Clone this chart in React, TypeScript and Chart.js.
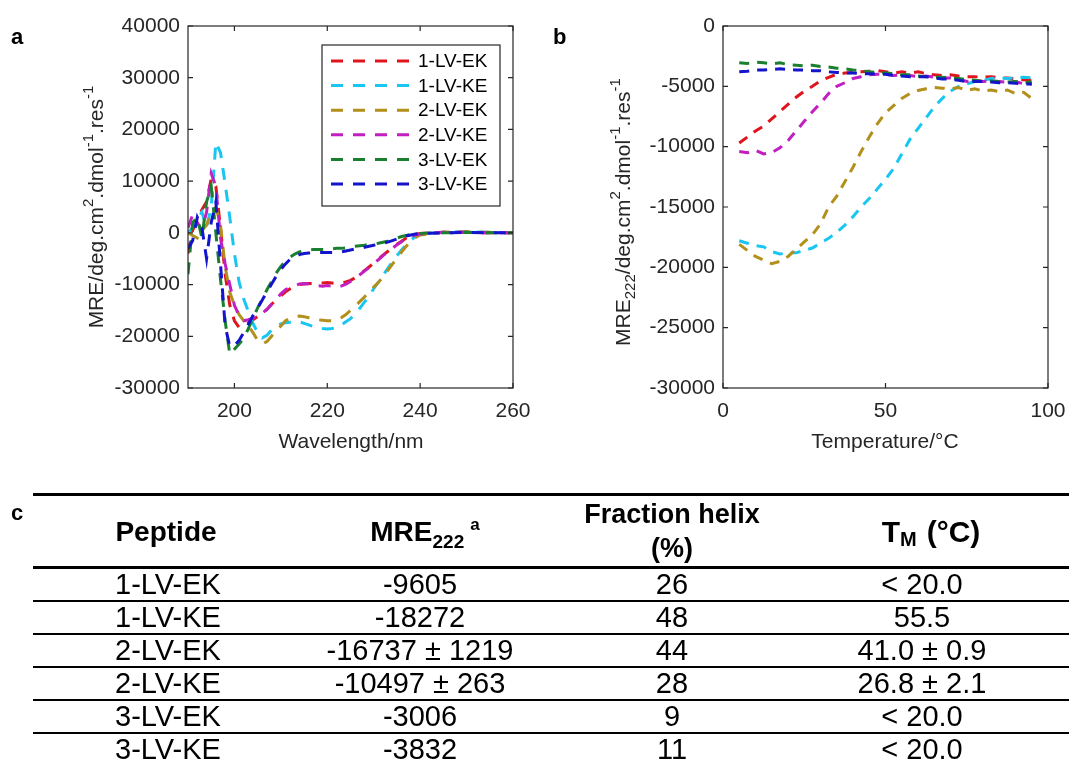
import React, { useEffect, useRef } from "react";
import { Chart, registerables } from "chart.js";

Chart.register(...registerables);

const FONT = '"Liberation Sans", Arial, Helvetica, sans-serif';
const INK = "#262626";

// ---------------- data ----------------
const SERIES_NAMES = ["1-LV-EK", "1-LV-KE", "2-LV-EK", "2-LV-KE", "3-LV-EK", "3-LV-KE"];
const SERIES_COLORS = ["#e0141c", "#19c6f2", "#b38f1b", "#c21fc2", "#1a7f2e", "#1414cc"];

// panel a: CD spectra
const WAVELENGTH_NM = [
  190, 191, 192, 193, 194, 195, 196, 197, 198, 199,
  200, 201, 202, 203, 204, 205, 206, 207, 208, 209,
  210, 211, 212, 213, 214, 215, 216, 217, 218, 219,
  220, 221, 222, 223, 224, 225, 226, 227, 228, 229,
  230, 231, 232, 233, 234, 235, 236, 237, 238, 239,
  240, 245, 250, 255, 260,
];
const CD_1LVEK = [
  -4000, 500, 2500, 4500, 6000, 10500, 9000, 1000, -8000, -14000,
  -17000, -18300, -18200, -17400, -16800, -16200, -15500, -14800, -13800, -13000,
  -12200, -11400, -10800, -10200, -10000, -9900, -9800, -9800, -9700, -9700,
  -9600, -9700, -9800, -9700, -9500, -9200, -8700, -8000, -7300, -6600,
  -5800, -5100, -4300, -3600, -2900, -2200, -1600, -1000, -600, -300,
  -100, 100, 100, 0, 0,
];
const CD_1LVKE = [
  0, 1000, 2500, 4000, 1000, 5000, 17500, 15500, 9500, 3000,
  -4000, -9500, -12800, -15200, -17500, -19300, -20300, -19800, -18800, -18000,
  -17600, -17400, -17300, -17200, -17200, -17500, -17800, -18100, -18300, -18500,
  -18600, -18500, -18300, -17800, -17200, -16600, -15600, -14600, -13400, -12200,
  -10800, -9500, -8200, -6900, -5600, -4400, -3300, -2300, -1400, -700,
  -300, 100, 200, 100, 0,
];
const CD_2LVEK = [
  0, -500, -1000, 500, 1500, 4000, 5000, 1500, -6500, -11500,
  -14000, -15800, -17000, -18000, -19300, -20800, -21500, -21000, -20000, -19000,
  -18000, -17000, -16500, -16200, -16100, -16200, -16400, -16600, -16800, -16900,
  -17000, -17000, -16800, -16400, -15800, -15000, -14200, -13300, -12400, -11400,
  -10500, -9600, -8500, -7300, -6100, -4900, -3700, -2600, -1600, -900,
  -400, 100, 200, 100, 0,
];
const CD_2LVKE = [
  1000, 3500, 2000, 500, 4000, 11500, 9000, -1000, -6000, -10000,
  -14000, -16000, -17000, -16800, -16500, -16000, -15500, -14800, -13800, -12800,
  -11800, -11000, -10500, -10200, -9900, -9800, -9900, -10000, -10200, -10300,
  -10200, -10300, -10500, -10300, -9900, -9400, -8800, -8100, -7400, -6700,
  -5900, -5200, -4400, -3700, -3000, -2300, -1700, -1100, -700, -400,
  -200, 100, 100, 0, 0,
];
const CD_3LVEK = [
  -8000, 2000, 3000, -1000, 6000, 9000, 0, -9000, -17000, -23500,
  -22500, -21500, -20400, -18500, -16500, -14500, -12800, -11000, -9400, -7800,
  -6500, -5500, -4700, -4100, -3700, -3400, -3300, -3200, -3200, -3200,
  -3200, -3100, -3000, -3000, -2900, -2700, -2600, -2500, -2400, -2200,
  -2100, -2000, -1800, -1600, -1300, -1000, -700, -500, -300, -200,
  -100, 0, 100, 0, 0,
];
const CD_3LVKE = [
  -3000, -1500, 3000, 1000, -5000, 2000, 6000, -6000, -18000, -22000,
  -21800, -20800, -19300, -17700, -16000, -14500, -13000, -11400, -9900, -8400,
  -7100, -6000, -5100, -4600, -4200, -4000, -3900, -3800, -3800, -3800,
  -3800, -3800, -3800, -3700, -3500, -3300, -3100, -3000, -2800, -2600,
  -2400, -2200, -2000, -1800, -1500, -1200, -900, -600, -400, -200,
  -100, 0, 100, 0, 0,
];
const CD_X_TICKS = [200, 220, 240, 260];
const CD_Y_TICKS = [40000, 30000, 20000, 10000, 0, -10000, -20000, -30000];

// panel b: thermal melts (MRE at 222 nm)
const TEMPERATURE_C = [
  5, 7.5, 10, 12.5, 15, 17.5, 20, 22.5, 25, 27.5,
  30, 32.5, 35, 37.5, 40, 42.5, 45, 47.5, 50, 52.5,
  55, 57.5, 60, 62.5, 65, 67.5, 70, 72.5, 75, 77.5,
  80, 82.5, 85, 87.5, 90, 92.5, 95,
];
const MELT_1LVEK = [
  -9700, -9200, -8700, -8300, -7700, -7100, -6500, -5900, -5400, -5000,
  -4550, -4250, -4000, -3900, -3850, -3800, -3750, -3700, -3800, -3900,
  -3800, -3900, -3800, -3950, -4050, -4100, -4050, -4150, -4200, -4200,
  -4250, -4200, -4300, -4300, -4400, -4450, -4500,
];
const MELT_1LVKE = [
  -17800, -18000, -18200, -18300, -18700, -18900, -18800, -18800, -18600, -18400,
  -18000, -17600, -17100, -16500, -15800, -15000, -14300, -13500, -12700, -11800,
  -10600, -9400, -8500, -7600, -6700, -6000, -5400, -5000, -4800, -4600,
  -4500, -4350, -4300, -4350, -4300, -4250, -4300,
];
const MELT_2LVEK = [
  -18100, -18600, -19100, -19400, -19700, -19500, -19100, -18500, -17900, -17300,
  -16400, -15000, -14100, -12900, -11700, -10400, -9200, -8100, -7200, -6600,
  -6000, -5600, -5350, -5200, -5100, -5150, -5200, -5100, -5350, -5200,
  -5400, -5300, -5450, -5300, -5600, -5500, -6000,
];
const MELT_2LVKE = [
  -10400, -10500, -10300, -10600, -10500, -10100, -9500, -8700, -7900, -7100,
  -6400, -5600, -5000, -4700, -4350, -4200, -4050, -4000, -4000, -4100,
  -4050, -4100, -4200, -4150, -4250, -4300, -4300, -4400, -4600, -4500,
  -4600, -4550, -4600, -4650, -4600, -4800, -4800,
];
const MELT_3LVEK = [
  -3050, -3100, -3000, -3050, -3150, -3050, -3200, -3250, -3300, -3250,
  -3350, -3400, -3500, -3550, -3650, -3700, -3800, -3850, -3900, -3950,
  -4050, -4050, -4150, -4200, -4250, -4250, -4300, -4350, -4450, -4500,
  -4600, -4550, -4600, -4650, -4600, -4700, -4650,
];
const MELT_3LVKE = [
  -3800, -3750, -3650, -3650, -3600, -3550, -3600, -3650, -3650, -3700,
  -3700, -3800, -3850, -3900, -3900, -3950, -3950, -4000, -4000, -4100,
  -4150, -4200, -4200, -4200, -4300, -4400, -4400, -4500, -4600, -4600,
  -4600, -4650, -4700, -4700, -4750, -4800, -4800,
];
const MELT_X_TICKS = [0, 50, 100];
const MELT_Y_TICKS = [0, -5000, -10000, -15000, -20000, -25000, -30000];

// panel c: table
const TABLE_PEPTIDE = ["1-LV-EK", "1-LV-KE", "2-LV-EK", "2-LV-KE", "3-LV-EK", "3-LV-KE"];
const TABLE_MRE222 = ["-9605", "-18272", "-16737 ± 1219", "-10497 ± 263", "-3006", "-3832"];
const TABLE_HELIX = ["26", "48", "44", "28", "9", "11"];
const TABLE_TM = ["< 20.0", "55.5", "41.0 ± 0.9", "26.8 ± 2.1", "< 20.0", "< 20.0"];

const CD_SERIES = [CD_1LVEK, CD_1LVKE, CD_2LVEK, CD_2LVKE, CD_3LVEK, CD_3LVKE];
const MELT_SERIES = [MELT_1LVEK, MELT_1LVKE, MELT_2LVEK, MELT_2LVKE, MELT_3LVEK, MELT_3LVKE];

// ---------------- drawing helpers ----------------
type Seg = { t: string; s?: "sup" | "sub" };

function drawRichText(
  ctx: CanvasRenderingContext2D,
  segs: Seg[],
  cx: number,
  cy: number,
  size: number,
  vertical: boolean
) {
  ctx.save();
  ctx.translate(cx, cy);
  if (vertical) ctx.rotate(-Math.PI / 2);
  const small = Math.round(size * 0.72);
  const widths = segs.map((seg) => {
    ctx.font = `${seg.s ? small : size}px ${FONT}`;
    return ctx.measureText(seg.t).width;
  });
  const total = widths.reduce((a, b) => a + b, 0);
  let x = -total / 2;
  ctx.textAlign = "left";
  ctx.textBaseline = "alphabetic";
  ctx.fillStyle = INK;
  const base = size * 0.36;
  segs.forEach((seg, i) => {
    ctx.font = `${seg.s ? small : size}px ${FONT}`;
    const dy = seg.s === "sup" ? -size * 0.45 : seg.s === "sub" ? size * 0.26 : 0;
    ctx.fillText(seg.t, x, base + dy);
    x += widths[i];
  });
  ctx.restore();
}

interface LegendBox {
  left: number;
  top: number;
  width: number;
  height: number;
  firstY: number;
  step: number;
}

interface AxesCfg {
  xTitle: Seg[];
  xTitlePos: [number, number];
  yTitle: Seg[];
  yTitlePos: [number, number];
  legend?: LegendBox;
}

function makeAxesPlugin(cfg: AxesCfg) {
  return {
    id: "matlabAxes",
    afterDraw(chart: any) {
      const { ctx, chartArea: a } = chart;
      const xs = chart.scales.x;
      const ys = chart.scales.y;
      ctx.save();
      ctx.setLineDash([]);
      ctx.strokeStyle = INK;
      ctx.lineWidth = 1.2;
      ctx.strokeRect(a.left, a.top, a.right - a.left, a.bottom - a.top);
      const tl = 5;
      ctx.beginPath();
      xs.ticks.forEach((t: any) => {
        const px = xs.getPixelForValue(t.value);
        ctx.moveTo(px, a.bottom);
        ctx.lineTo(px, a.bottom - tl);
        ctx.moveTo(px, a.top);
        ctx.lineTo(px, a.top + tl);
      });
      ys.ticks.forEach((t: any) => {
        const py = ys.getPixelForValue(t.value);
        ctx.moveTo(a.left, py);
        ctx.lineTo(a.left + tl, py);
        ctx.moveTo(a.right, py);
        ctx.lineTo(a.right - tl, py);
      });
      ctx.stroke();

      drawRichText(ctx, cfg.xTitle, cfg.xTitlePos[0], cfg.xTitlePos[1], 21, false);
      drawRichText(ctx, cfg.yTitle, cfg.yTitlePos[0], cfg.yTitlePos[1], 21, true);

      const lg = cfg.legend;
      if (lg) {
        ctx.fillStyle = "#ffffff";
        ctx.fillRect(lg.left, lg.top, lg.width, lg.height);
        ctx.strokeStyle = INK;
        ctx.lineWidth = 1.2;
        ctx.strokeRect(lg.left, lg.top, lg.width, lg.height);
        chart.data.datasets.forEach((ds: any, i: number) => {
          const y = lg.firstY + i * lg.step;
          ctx.beginPath();
          ctx.setLineDash([12, 10]);
          ctx.lineWidth = 3;
          ctx.strokeStyle = ds.borderColor;
          ctx.moveTo(lg.left + 9, y);
          ctx.lineTo(lg.left + 87, y);
          ctx.stroke();
          ctx.setLineDash([]);
          ctx.font = `19px ${FONT}`;
          ctx.fillStyle = "#000000";
          ctx.textAlign = "left";
          ctx.textBaseline = "middle";
          ctx.fillText(ds.label, lg.left + 96, y + 1);
        });
      }
      ctx.restore();
    },
  };
}

function makeDatasets(xs: number[], series: number[][], dash: number[]) {
  return series.map((ys, i) => ({
    label: SERIES_NAMES[i],
    data: xs.map((x, j) => ({ x, y: ys[j] })),
    borderColor: SERIES_COLORS[i],
    backgroundColor: SERIES_COLORS[i],
    borderWidth: 3,
    borderDash: dash,
    borderCapStyle: "butt",
    pointRadius: 0,
    pointHoverRadius: 0,
    fill: false,
    tension: 0,
    order: series.length - i,
  }));
}

function makeScales(
  xRange: [number, number],
  xTicks: number[],
  yRange: [number, number],
  yTicks: number[],
  yWidth: number,
  xHeight: number
) {
  const tickFont = { family: FONT, size: 21 };
  return {
    x: {
      type: "linear",
      min: xRange[0],
      max: xRange[1],
      grid: { display: false, drawTicks: false, tickLength: 0 },
      border: { display: false },
      ticks: {
        font: tickFont,
        color: INK,
        padding: 11,
        maxRotation: 0,
        autoSkip: false,
        callback: (v: any) => String(v),
      },
      afterBuildTicks: (s: any) => {
        s.ticks = xTicks.map((v) => ({ value: v }));
      },
      afterFit: (s: any) => {
        s.height = xHeight;
      },
    },
    y: {
      type: "linear",
      min: yRange[0],
      max: yRange[1],
      grid: { display: false, drawTicks: false, tickLength: 0 },
      border: { display: false },
      ticks: {
        font: tickFont,
        color: INK,
        padding: 8,
        autoSkip: false,
        callback: (v: any) => String(v),
      },
      afterBuildTicks: (s: any) => {
        s.ticks = yTicks.map((v) => ({ value: v }));
      },
      afterFit: (s: any) => {
        s.width = yWidth;
      },
    },
  };
}

const CANVAS_H = 470;
const CANVAS_W = 560;

function ChartPanel({ left, build }: { left: number; build: () => any }) {
  const ref = useRef<HTMLCanvasElement>(null);
  useEffect(() => {
    const chart = new Chart(ref.current as HTMLCanvasElement, build());
    return () => chart.destroy();
  }, []);
  return (
    <canvas
      ref={ref}
      width={CANVAS_W}
      height={CANVAS_H}
      style={{ position: "absolute", left, top: 0, width: CANVAS_W, height: CANVAS_H }}
    />
  );
}

function buildCdConfig() {
  // plot area: page x 188..513, y 26..388 (canvas at page x 0)
  return {
    type: "line",
    data: { datasets: makeDatasets(WAVELENGTH_NM, CD_SERIES, [12, 10]) },
    options: {
      responsive: false,
      animation: false,
      devicePixelRatio: 1,
      layout: { padding: { top: 26, right: CANVAS_W - 513, left: 0, bottom: 0 } },
      plugins: { legend: { display: false }, tooltip: { enabled: false } },
      scales: makeScales([190, 260], CD_X_TICKS, [-30000, 40000], CD_Y_TICKS, 188, CANVAS_H - 388),
    },
    plugins: [
      makeAxesPlugin({
        xTitle: [{ t: "Wavelength/nm" }],
        xTitlePos: [351, 440],
        yTitle: [
          { t: "MRE/deg.cm" },
          { t: "2", s: "sup" },
          { t: ".dmol" },
          { t: "-1", s: "sup" },
          { t: ".res" },
          { t: "-1", s: "sup" },
        ],
        yTitlePos: [95, 207],
        legend: { left: 322, top: 45, width: 178, height: 161, firstY: 61, step: 24.6 },
      }),
    ],
  };
}

function buildMeltConfig() {
  // plot area: page x 723..1048, y 26..388 (canvas at page x 540)
  return {
    type: "line",
    data: { datasets: makeDatasets(TEMPERATURE_C, MELT_SERIES, [10, 8]) },
    options: {
      responsive: false,
      animation: false,
      devicePixelRatio: 1,
      layout: { padding: { top: 26, right: CANVAS_W - (1048 - 540), left: 0, bottom: 0 } },
      plugins: { legend: { display: false }, tooltip: { enabled: false } },
      scales: makeScales([0, 100], MELT_X_TICKS, [-30000, 0], MELT_Y_TICKS, 723 - 540, CANVAS_H - 388),
    },
    plugins: [
      makeAxesPlugin({
        xTitle: [{ t: "Temperature/°C" }],
        xTitlePos: [885 - 540, 440],
        yTitle: [
          { t: "MRE" },
          { t: "222", s: "sub" },
          { t: "/deg.cm" },
          { t: "2", s: "sup" },
          { t: ".dmol" },
          { t: "-1", s: "sup" },
          { t: ".res" },
          { t: "-1", s: "sup" },
        ],
        yTitlePos: [622 - 540, 212],
      }),
    ],
  };
}

// ---------------- table ----------------
const ROW_CENTERS_X = [168, 420, 672, 922];
const HEAD_CENTERS_X = [166, 425, 672, 931];

function Cell({
  cx,
  cy,
  bold,
  size,
  children,
}: {
  cx: number;
  cy: number;
  bold?: boolean;
  size?: number;
  children: any;
}) {
  return (
    <div
      style={{
        position: "absolute",
        left: cx - 150,
        width: 300,
        top: cy - 17,
        height: 34,
        lineHeight: "34px",
        textAlign: "center",
        fontSize: size || 29,
        fontWeight: bold ? "bold" : "normal",
        whiteSpace: "nowrap",
        color: "#000",
      }}
    >
      {children}
    </div>
  );
}

function Rule({ y, h }: { y: number; h: number }) {
  return <div style={{ position: "absolute", left: 33, width: 1069 - 33, top: y, height: h, background: "#000" }} />;
}

function DataTable() {
  const rows = TABLE_PEPTIDE.map((p, i) => [p, TABLE_MRE222[i], TABLE_HELIX[i], TABLE_TM[i]]);
  return (
    <>
      <Rule y={493} h={3} />
      <Cell cx={HEAD_CENTERS_X[0]} cy={532} bold size={28}>
        Peptide
      </Cell>
      <Cell cx={HEAD_CENTERS_X[1]} cy={532} bold size={28}>
        MRE
        <span style={{ fontSize: 19, position: "relative", top: 7 }}>222</span>
        <span style={{ fontSize: 17, position: "relative", top: -11, marginLeft: 6 }}>a</span>
      </Cell>
      <Cell cx={HEAD_CENTERS_X[2]} cy={514} bold size={27}>
        Fraction helix
      </Cell>
      <Cell cx={HEAD_CENTERS_X[2]} cy={548} bold size={27}>
        (%)
      </Cell>
      <Cell cx={HEAD_CENTERS_X[3]} cy={532} bold size={30}>
        T<span style={{ fontSize: 20, position: "relative", top: 4 }}>M</span>
        <span style={{ marginLeft: 10 }}>(°C)</span>
      </Cell>
      <Rule y={566} h={3} />
      {rows.map((r, i) => (
        <React.Fragment key={i}>
          {r.map((txt, j) => (
            <Cell key={j} cx={ROW_CENTERS_X[j]} cy={584 + 33 * i}>
              {txt}
            </Cell>
          ))}
          {i < rows.length - 1 && <Rule y={600 + 33 * i} h={2} />}
        </React.Fragment>
      ))}
    </>
  );
}

function PanelLabel({ x, y, text }: { x: number; y: number; text: string }) {
  return (
    <div
      style={{
        position: "absolute",
        left: x,
        top: y - 13,
        height: 26,
        lineHeight: "26px",
        fontSize: 22,
        fontWeight: "bold",
        color: "#000",
      }}
    >
      {text}
    </div>
  );
}

export default function App() {
  return (
    <div
      style={{
        position: "fixed",
        left: 0,
        top: 0,
        width: 1069,
        height: 774,
        background: "#ffffff",
        overflow: "hidden",
        fontFamily: FONT,
      }}
    >
      <ChartPanel left={0} build={buildCdConfig} />
      <ChartPanel left={540} build={buildMeltConfig} />
      <PanelLabel x={11} y={37} text="a" />
      <PanelLabel x={553} y={37} text="b" />
      <PanelLabel x={11} y={513} text="c" />
      <DataTable />
    </div>
  );
}
